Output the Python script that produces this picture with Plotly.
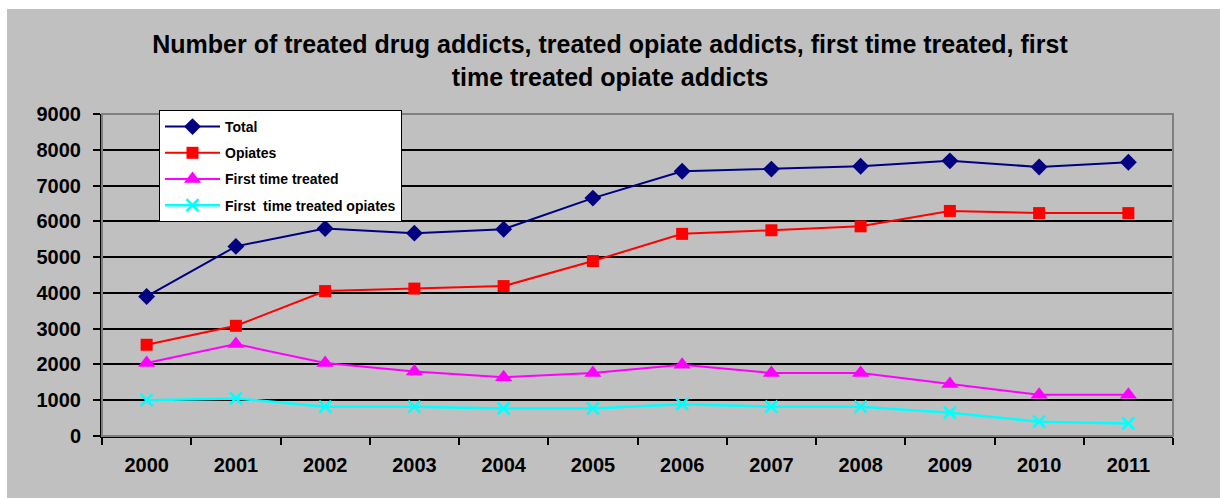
import plotly.graph_objects as go

# Annual counts of treated addicts
years = ["2000", "2001", "2002", "2003", "2004", "2005",
         "2006", "2007", "2008", "2009", "2010", "2011"]
total = [3900, 5300, 5800, 5670, 5780, 6650, 7400, 7460, 7540, 7690, 7520, 7650]
opiates = [2550, 3080, 4050, 4120, 4190, 4890, 5650, 5750, 5860, 6290, 6230, 6230]
first_time = [2040, 2570, 2040, 1800, 1640, 1760, 1990, 1760, 1760, 1450, 1150, 1150]
first_time_opiates = [1000, 1050, 820, 820, 770, 770, 890, 820, 820, 650, 400, 350]

y_ticks = list(range(0, 9001, 1000))

W, H = 1220, 498
L, R, T, B = 102, 47, 114, 62
pw, ph = W - L - R, H - T - B

FONT = "Liberation Sans, Arial, sans-serif"

fig = go.Figure()

series = [
    ("Total", total, "#000080", "diamond", 13, 2),
    ("Opiates", opiates, "#FF0000", "square", 12, 2),
    ("First time treated", first_time, "#FF00FF", "triangle-up", 15, 2),
    ("First  time treated opiates", first_time_opiates, "#00FFFF", "x-thin", 12, 2.5),
]

for i, (name, vals, color, sym, size, lw) in enumerate(series):
    marker = dict(symbol=sym, size=size, color=color)
    if sym == "x-thin":
        marker["line"] = dict(color=color, width=2.5)
    fig.add_trace(go.Scatter(
        x=years, y=vals, name=name, mode="lines+markers",
        line=dict(color=color, width=lw), marker=marker,
        legendgroup=f"g{i}",
    ))

# Gray chart frame, leaving the thin white margin on the top and left
shapes = [
    dict(type="rect", xref="paper", yref="paper", layer="below",
         x0=-(L - 7) / pw, x1=(W - L) / pw,
         y0=-B / ph, y1=(H - B - 9) / ph,
         fillcolor="#C0C0C0", line=dict(width=0)),
    # plot-area border
    dict(type="rect", xref="paper", yref="paper", layer="above",
         x0=0, x1=1, y0=0, y1=1,
         line=dict(color="#808080", width=2)),
]

fig.update_layout(
    width=W, height=H,
    margin=dict(l=L, r=R, t=T, b=B, pad=0),
    paper_bgcolor="white",
    plot_bgcolor="white",
    shapes=shapes,
    font=dict(family=FONT, color="black"),
    title=dict(
        text="Number of treated drug addicts, treated opiate addicts, first time treated, first<br>time treated opiate addicts",
        font=dict(family=FONT, size=25, weight="bold", color="black"),
        x=610 / W, xanchor="center", xref="container",
        y=1 - 53 / H, yanchor="middle", yref="container",
    ),
    xaxis=dict(
        type="category",
        categoryorder="array", categoryarray=years,
        range=[-0.5, len(years) - 0.5], autorange=False,
        showgrid=False,
        showline=True, linecolor="black", linewidth=2,
        ticks="outside", tickson="boundaries", ticklen=7,
        tickcolor="black", tickwidth=2,
        tickfont=dict(family=FONT, size=20, weight="bold"),
        ticklabelstandoff=10,
        zeroline=False,
    ),
    yaxis=dict(
        range=[0, 9000], tickvals=y_ticks,
        ticktext=[str(v) for v in y_ticks],
        showgrid=True, gridcolor="black", gridwidth=1.6,
        showline=True, linecolor="black", linewidth=2,
        ticks="outside", ticklen=7, tickcolor="black", tickwidth=2,
        tickfont=dict(family=FONT, size=20, weight="bold"),
        ticklabelstandoff=8,
        zeroline=False,
    ),
    legend=dict(
        x=(159 - L) / pw, xanchor="left",
        y=(H - B - 110) / ph, yanchor="top",
        bgcolor="white", bordercolor="black", borderwidth=1,
        font=dict(family=FONT, size=14, weight="bold", color="black"),
        tracegroupgap=5, itemwidth=55,
    ),
)

fig.write_html("out.html")
